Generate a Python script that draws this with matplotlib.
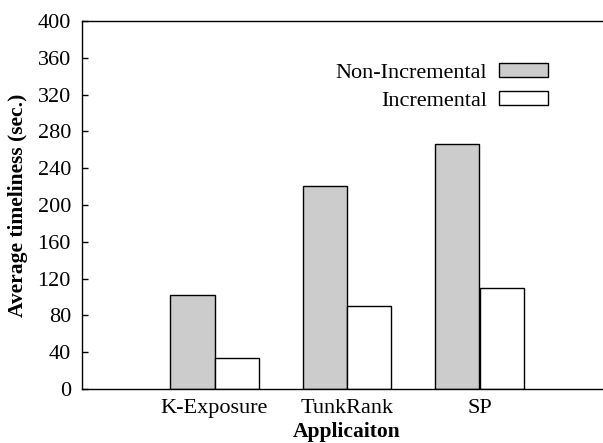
import matplotlib
matplotlib.use("Agg")
import matplotlib.pyplot as plt
import numpy as np

categories = ["K-Exposure", "TunkRank", "SP"]
non_incremental = [102, 221, 266]
incremental = [34, 90, 110]
yticks = [0, 40, 80, 120, 160, 200, 240, 280, 320, 360, 400]

plt.rcParams['font.family'] = ['Liberation Serif', 'DejaVu Serif']

fig = plt.figure(figsize=(6.03, 4.43), dpi=100)
W, H = 603, 443
left, right, top, bottom = 82, 612, 21, 389
ax = fig.add_axes([left / W, 1 - bottom / H, (right - left) / W, (bottom - top) / H])

x = np.arange(len(categories))
bw = 0.333
ax.bar(x - bw / 2, non_incremental, width=bw, color='#cccccc', edgecolor='black', linewidth=1.0,
       label='Non-Incremental')
ax.bar(x + bw / 2, incremental, width=bw, color='white', edgecolor='black', linewidth=1.0,
       label='Incremental')

fs = 16
ax.set_xlim(-1, 3)
ax.set_ylim(0, 400)
ax.set_yticks(yticks)
ax.set_xticks(x)
ax.set_xticklabels(categories)
ax.tick_params(axis='x', length=0, labelsize=fs, pad=7.5)
ax.tick_params(axis='y', direction='in', length=4, labelsize=fs, pad=8, width=1)
for s in ax.spines.values():
    s.set_linewidth(1.0)

ax.set_ylabel('Average timeliness (sec.)', fontsize=15.5, fontweight='bold')
ax.yaxis.set_label_coords((18 - left) / (right - left), 0.5)
ax.set_xlabel('Applicaiton', fontsize=15.5, fontweight='bold')
ax.xaxis.set_label_coords(0.5, -(432 - bottom) / (bottom - top))
ax.xaxis.label.set_va('center')
ax.yaxis.label.set_va('center')

leg = ax.legend(loc='upper right',
                bbox_to_anchor=((548 - left) / (right - left), 1 - (63 - top) / (bottom - top)),
                frameon=False, markerfirst=False,
                fontsize=fs, handlelength=2.2, handleheight=0.62, labelspacing=0.36,
                handletextpad=0.55, borderaxespad=0, borderpad=0)
for t in leg.get_texts():
    t.set_ha('right')
leg._legend_box.align = 'right'

fig.savefig('out.png', dpi=100)
